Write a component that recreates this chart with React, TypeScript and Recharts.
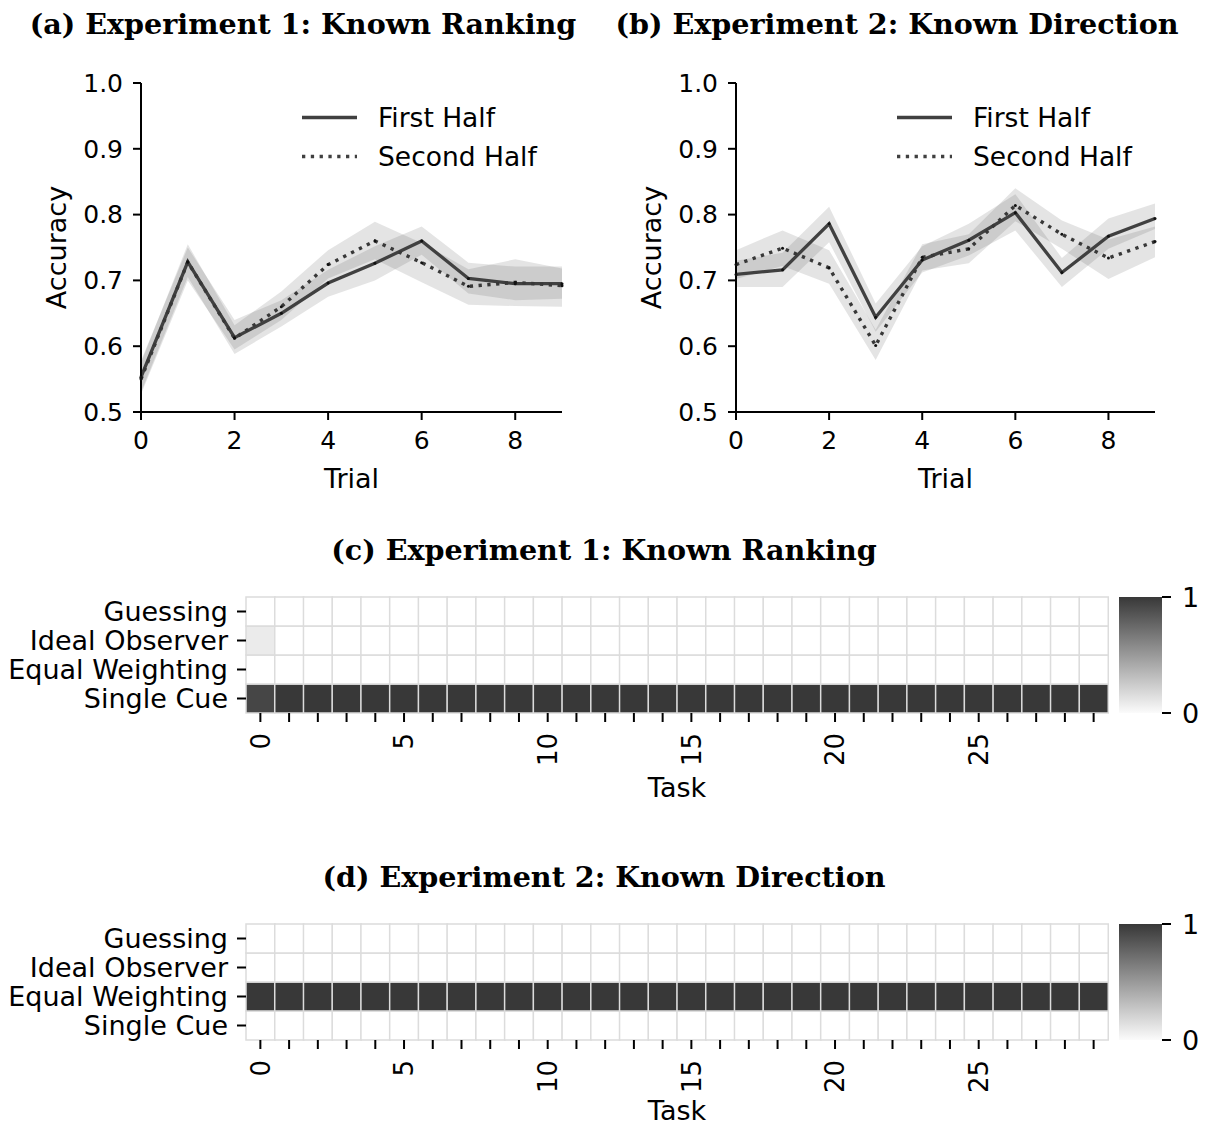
import React from 'react';
import { ComposedChart, Line, Area, XAxis, YAxis, Legend, BarChart, Bar, Cell } from 'recharts';

// ---- accuracy curves (panels a, b) ----
const trials = [0, 1, 2, 3, 4, 5, 6, 7, 8, 9];
const accuracyTicks = [0.5, 0.6, 0.7, 0.8, 0.9, 1.0];
const trialTicks = [0, 2, 4, 6, 8];

const firstHalfA = [0.553, 0.728, 0.613, 0.65, 0.696, 0.726, 0.76, 0.703, 0.695, 0.695];
const firstLoA = [0.53, 0.705, 0.588, 0.63, 0.675, 0.7, 0.739, 0.68, 0.67, 0.672];
const firstHiA = [0.578, 0.75, 0.64, 0.67, 0.716, 0.752, 0.782, 0.727, 0.721, 0.721];
const secondHalfA = [0.55, 0.728, 0.612, 0.66, 0.724, 0.76, 0.727, 0.691, 0.697, 0.692];
const secondLoA = [0.527, 0.7, 0.595, 0.64, 0.703, 0.732, 0.697, 0.663, 0.661, 0.66];
const secondHiA = [0.575, 0.755, 0.632, 0.683, 0.746, 0.789, 0.757, 0.717, 0.732, 0.718];

const firstHalfB = [0.709, 0.716, 0.786, 0.644, 0.731, 0.761, 0.803, 0.712, 0.767, 0.794];
const firstLoB = [0.69, 0.69, 0.758, 0.622, 0.712, 0.738, 0.776, 0.69, 0.748, 0.778];
const firstHiB = [0.73, 0.742, 0.812, 0.665, 0.752, 0.786, 0.831, 0.734, 0.794, 0.817];
const secondHalfB = [0.724, 0.749, 0.719, 0.601, 0.735, 0.748, 0.814, 0.77, 0.734, 0.759];
const secondLoB = [0.702, 0.722, 0.695, 0.579, 0.715, 0.726, 0.79, 0.748, 0.702, 0.735];
const secondHiB = [0.746, 0.776, 0.746, 0.625, 0.755, 0.77, 0.84, 0.791, 0.762, 0.782];

const seriesNames = { first: 'First Half', second: 'Second Half' };

// ---- strategy heatmaps (panels c, d) ----
const strategies = ['Guessing', 'Ideal Observer', 'Equal Weighting', 'Single Cue'];
const tasks = [0, 1, 2, 3, 4, 5, 6, 7, 8, 9, 10, 11, 12, 13, 14, 15, 16, 17, 18, 19, 20, 21, 22, 23, 24, 25, 26, 27, 28, 29];

const guessingC = [0, 0, 0, 0, 0, 0, 0, 0, 0, 0, 0, 0, 0, 0, 0, 0, 0, 0, 0, 0, 0, 0, 0, 0, 0, 0, 0, 0, 0, 0];
const idealC = [0.1, 0, 0, 0, 0, 0, 0, 0, 0, 0, 0, 0, 0, 0, 0, 0, 0, 0, 0, 0, 0, 0, 0, 0, 0, 0, 0, 0, 0, 0];
const equalC = [0, 0, 0, 0, 0, 0, 0, 0, 0, 0, 0, 0, 0, 0, 0, 0, 0, 0, 0, 0, 0, 0, 0, 0, 0, 0, 0, 0, 0, 0];
const singleC = [0.93, 1, 1, 1, 1, 1, 1, 1, 1, 1, 1, 1, 1, 1, 1, 1, 1, 1, 1, 1, 1, 1, 1, 1, 1, 1, 1, 1, 1, 1];

const guessingD = [0, 0, 0, 0, 0, 0, 0, 0, 0, 0, 0, 0, 0, 0, 0, 0, 0, 0, 0, 0, 0, 0, 0, 0, 0, 0, 0, 0, 0, 0];
const idealD = [0, 0, 0, 0, 0, 0, 0, 0, 0, 0, 0, 0, 0, 0, 0, 0, 0, 0, 0, 0, 0, 0, 0, 0, 0, 0, 0, 0, 0, 0];
const equalD = [1, 1, 1, 1, 1, 1, 1, 1, 1, 1, 1, 1, 1, 1, 1, 1, 1, 1, 1, 1, 1, 1, 1, 1, 1, 1, 1, 1, 1, 1];
const singleD = [0, 0, 0, 0, 0, 0, 0, 0, 0, 0, 0, 0, 0, 0, 0, 0, 0, 0, 0, 0, 0, 0, 0, 0, 0, 0, 0, 0, 0, 0];

const colorbarTicks = [0, 1];

const titles = [
  { text: '(a) Experiment 1: Known Ranking', x: 303, y: 33 },
  { text: '(b) Experiment 2: Known Direction', x: 897, y: 33 },
  { text: '(c) Experiment 1: Known Ranking', x: 604, y: 559 },
  { text: '(d) Experiment 2: Known Direction', x: 604, y: 886 },
];

const LINE = '#404040';
const DOTTED = '3.3 5.5';
const AXIS = { stroke: '#000', strokeWidth: 2 };

function shade(v: number) {
  const c = Math.round(255 - 199 * v);
  return `rgb(${c},${c},${c})`;
}

function SeriesLegend(props: any) {
  const items = (props.payload || []).filter((p: any) => p.dataKey === 'first' || p.dataKey === 'second');
  return (
    <div style={{ fontSize: 26.5, color: '#000' }}>
      {items.map((p: any) => (
        <div key={p.dataKey} style={{ display: 'flex', alignItems: 'center', height: 39 }}>
          <svg width={60} height={39}>
            <line x1={2} x2={57} y1={19.5} y2={19.5} stroke={LINE} strokeWidth={3.3}
              strokeDasharray={p.dataKey === 'second' ? DOTTED : undefined} />
          </svg>
          <span style={{ marginLeft: 18, whiteSpace: 'nowrap' }}>{p.value}</span>
        </div>
      ))}
    </div>
  );
}

interface PanelProps {
  first: number[]; firstLo: number[]; firstHi: number[];
  second: number[]; secondLo: number[]; secondHi: number[];
  width: number; yWidth: number; right: number;
}

function AccuracyPanel({ first, firstLo, firstHi, second, secondLo, secondHi, width, yWidth, right }: PanelProps) {
  const data = trials.map((t, i) => ({
    trial: t,
    first: first[i],
    second: second[i],
    firstBand: [firstLo[i], firstHi[i]],
    secondBand: [secondLo[i], secondHi[i]],
  }));
  return (
    <ComposedChart width={width} height={520} data={data} margin={{ top: 83, right, bottom: 0, left: 0 }}>
      <XAxis dataKey="trial" type="number" domain={[0, 9]} ticks={trialTicks} height={108}
        axisLine={AXIS} tickLine={AXIS} tickSize={8} tickMargin={11}
        tick={{ fill: '#000', fontSize: 25 }}
        label={{
          content: ({ viewBox }: any) => (
            <text x={viewBox.x + viewBox.width / 2} y={viewBox.y + 76} textAnchor="middle" fontSize={27} fill="#000">Trial</text>
          ),
        }} />
      <YAxis type="number" domain={[0.5, 1]} ticks={accuracyTicks} width={yWidth}
        tickFormatter={(v: number) => v.toFixed(1)}
        axisLine={AXIS} tickLine={AXIS} tickSize={8} tickMargin={10}
        tick={{ fill: '#000', fontSize: 25 }}
        label={{
          content: ({ viewBox }: any) => {
            const x = viewBox.x + viewBox.width - 75;
            const y = viewBox.y + viewBox.height / 2;
            return (
              <text x={x} y={y} textAnchor="middle" fontSize={27} fill="#000" transform={`rotate(-90 ${x} ${y})`}>Accuracy</text>
            );
          },
        }} />
      <Area dataKey="firstBand" type="linear" stroke="none" fill={LINE} fillOpacity={0.14} legendType="none" isAnimationActive={false} />
      <Area dataKey="secondBand" type="linear" stroke="none" fill={LINE} fillOpacity={0.14} legendType="none" isAnimationActive={false} />
      <Line dataKey="first" name={seriesNames.first} type="linear" stroke={LINE} strokeWidth={3.3}
        dot={{ r: 1.5, fill: '#111', stroke: 'none' }} activeDot={false} isAnimationActive={false} />
      <Line dataKey="second" name={seriesNames.second} type="linear" stroke="#383838" strokeWidth={3.4}
        strokeDasharray={DOTTED} dot={{ r: 1.5, fill: '#111', stroke: 'none' }} activeDot={false} isAnimationActive={false} />
      <Legend layout="vertical" align="center" verticalAlign="middle" content={<SeriesLegend />}
        wrapperStyle={{ left: yWidth + 159, top: 98, width: 300 }} />
    </ComposedChart>
  );
}

function TaskTick(props: any) {
  const { x, y, payload } = props;
  if (payload.value % 5 !== 0) return <g />;
  return (
    <text x={x} y={y} dy="0.36em" textAnchor="end" fontSize={26} fill="#000" transform={`rotate(-90 ${x} ${y})`}>
      {payload.value}
    </text>
  );
}

function StrategyHeatmap({ rows, height, labelDy }: { rows: number[][]; height: number; labelDy: number }) {
  const data = tasks.map((t) => ({ task: t, row0: 1, row1: 1, row2: 1, row3: 1 }));
  return (
    <BarChart width={1110} height={height} data={data} margin={{ top: 37, right: 2, bottom: 0, left: 0 }}
      barCategoryGap={0} barGap={0}>
      <XAxis dataKey="task" type="category" interval={0} height={height - 153} axisLine={false}
        tickLine={AXIS} tickSize={9} tickMargin={11} tick={TaskTick}
        label={{
          content: ({ viewBox }: any) => (
            <text x={viewBox.x + viewBox.width / 2} y={viewBox.y + labelDy} textAnchor="middle" fontSize={27} fill="#000">Task</text>
          ),
        }} />
      <YAxis type="number" domain={[0, 4]} ticks={[0.5, 1.5, 2.5, 3.5]} interval={0} width={246} axisLine={false}
        tickLine={AXIS} tickSize={9} tickMargin={9} tick={{ fill: '#000', fontSize: 27 }}
        tickFormatter={(v: number) => strategies[3 - Math.floor(v)]} />
      {[3, 2, 1, 0].map((r) => (
        <Bar key={r} dataKey={`row${r}`} stackId="s" isAnimationActive={false}>
          {rows[r].map((v, i) => (
            <Cell key={i} fill={shade(v)} stroke="#dcdcdc" strokeWidth={1.5} />
          ))}
        </Bar>
      ))}
    </BarChart>
  );
}

function ColorBar({ id }: { id: string }) {
  const data = [{ name: 'scale', value: colorbarTicks[1] }];
  return (
    <BarChart width={116} height={200} data={data} margin={{ top: 37, right: 0, bottom: 47, left: 19 }} barCategoryGap={0}>
      <defs>
        <linearGradient id={id} x1="0" y1="1" x2="0" y2="0">
          <stop offset="0%" stopColor={shade(0.02)} />
          <stop offset="100%" stopColor={shade(1)} />
        </linearGradient>
      </defs>
      <XAxis dataKey="name" hide />
      <YAxis orientation="right" type="number" domain={[0, 1]} ticks={colorbarTicks} width={54}
        axisLine={false} tickLine={AXIS} tickSize={9} tickMargin={11} tick={{ fill: '#000', fontSize: 27 }} />
      <Bar dataKey="value" fill={`url(#${id})`} isAnimationActive={false} />
    </BarChart>
  );
}

export default function App() {
  return (
    <div style={{ position: 'absolute', left: 0, top: 0, width: 1216, height: 1127, background: '#fff', fontFamily: '"DejaVu Sans", sans-serif', overflow: 'hidden' }}>
      <svg width={1216} height={1127} style={{ position: 'absolute', left: 0, top: 0 }}>
        {titles.map((t) => (
          <text key={t.text} x={t.x} y={t.y + 0.5} textAnchor="middle" fontFamily='"DejaVu Serif", serif' fontWeight="bold" fontSize={28.6} fill="#000">
            {t.text}
          </text>
        ))}
      </svg>
      <div style={{ position: 'absolute', left: 0, top: 0 }}>
        <AccuracyPanel first={firstHalfA} firstLo={firstLoA} firstHi={firstHiA}
          second={secondHalfA} secondLo={secondLoA} secondHi={secondHiA}
          width={600} yWidth={141} right={38} />
      </div>
      <div style={{ position: 'absolute', left: 600, top: 0 }}>
        <AccuracyPanel first={firstHalfB} firstLo={firstLoB} firstHi={firstHiB}
          second={secondHalfB} secondLo={secondLoB} secondHi={secondHiB}
          width={616} yWidth={136} right={61} />
      </div>
      <div style={{ position: 'absolute', left: 0, top: 560 }}>
        <StrategyHeatmap rows={[guessingC, idealC, equalC, singleC]} height={250} labelDy={84} />
      </div>
      <div style={{ position: 'absolute', left: 1100, top: 560 }}>
        <ColorBar id="cbarC" />
      </div>
      <div style={{ position: 'absolute', left: 0, top: 887 }}>
        <StrategyHeatmap rows={[guessingD, idealD, equalD, singleD]} height={240} labelDy={80} />
      </div>
      <div style={{ position: 'absolute', left: 1100, top: 887 }}>
        <ColorBar id="cbarD" />
      </div>
    </div>
  );
}
